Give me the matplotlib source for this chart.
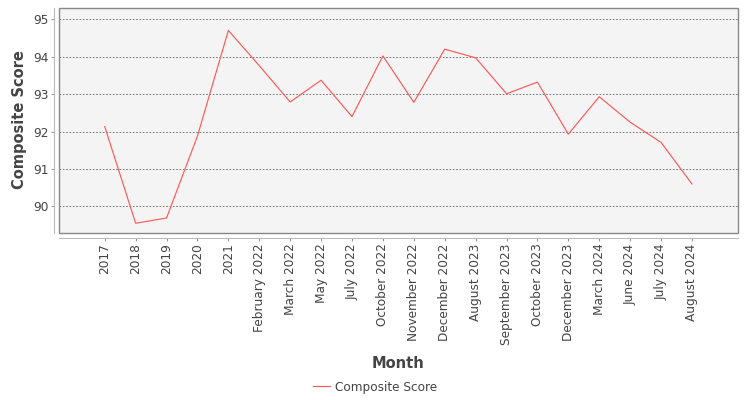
import matplotlib.pyplot as plt
from matplotlib.patches import Rectangle

# data
months = ["2017", "2018", "2019", "2020", "2021", "February 2022", "March 2022",
          "May 2022", "July 2022", "October 2022", "November 2022", "December 2022",
          "August 2023", "September 2023", "October 2023", "December 2023",
          "March 2024", "June 2024", "July 2024", "August 2024"]
scores = [92.13, 89.55, 89.69, 91.88, 94.70, 93.76, 92.79, 93.37, 92.40, 94.02,
          92.78, 94.20, 93.97, 93.01, 93.32, 91.93, 92.93, 92.25, 91.71, 90.60]
yticks = [90, 91, 92, 93, 94, 95]

txt = "#444444"
fig = plt.figure(figsize=(7.5, 4), dpi=100)
ax = fig.add_axes([59/750, 1-233/400, (738-59)/750, (233-8)/400])
ax.set_facecolor("#f4f4f4")

x = list(range(len(months)))
ax.plot(x, scores, color="#ff5a5a", lw=0.85, label="Composite Score")

ax.set_xlim(-1.48, len(months) - 1 + 1.49)
ax.set_ylim(89.29, 95.30)
ax.set_yticks(yticks)
ax.set_xticks(x)
ax.set_xticklabels(months)
ax.tick_params(axis="y", labelsize=8.7, labelcolor=txt, length=2, color="#999999", pad=2)
ax.tick_params(axis="x", labelsize=8.7, labelcolor=txt, labelrotation=90,
               length=2, color="#999999", pad=2)

ax.grid(axis="y", color="#666666", ls=(0, (2, 2)), lw=0.6)
ax.set_axisbelow(True)

for s in ["top", "right"]:
    ax.spines[s].set_visible(False)
for s in ["left", "bottom"]:
    ax.spines[s].set_position(("outward", 3.5))
    ax.spines[s].set_color("#bbbbbb")
    ax.spines[s].set_linewidth(0.8)
ax.add_patch(Rectangle((0, 0), 1, 1, transform=ax.transAxes, fill=False,
                       edgecolor="#888888", lw=1.0, clip_on=False, zorder=5))

fig.text(20/750, 1-120/400, "Composite Score", fontsize=10.5, fontweight="bold",
         color=txt, rotation=90, ha="center", va="center")
fig.text(398/750, 1-364/400, "Month", fontsize=10.5, fontweight="bold", color=txt,
         ha="center", va="center")
fig.legend(loc="center", bbox_to_anchor=(375/750, 1-387/400), frameon=False,
           fontsize=8.7, labelcolor=txt, handlelength=1.4, handletextpad=0.4)

fig.savefig("out.png", dpi=100)
